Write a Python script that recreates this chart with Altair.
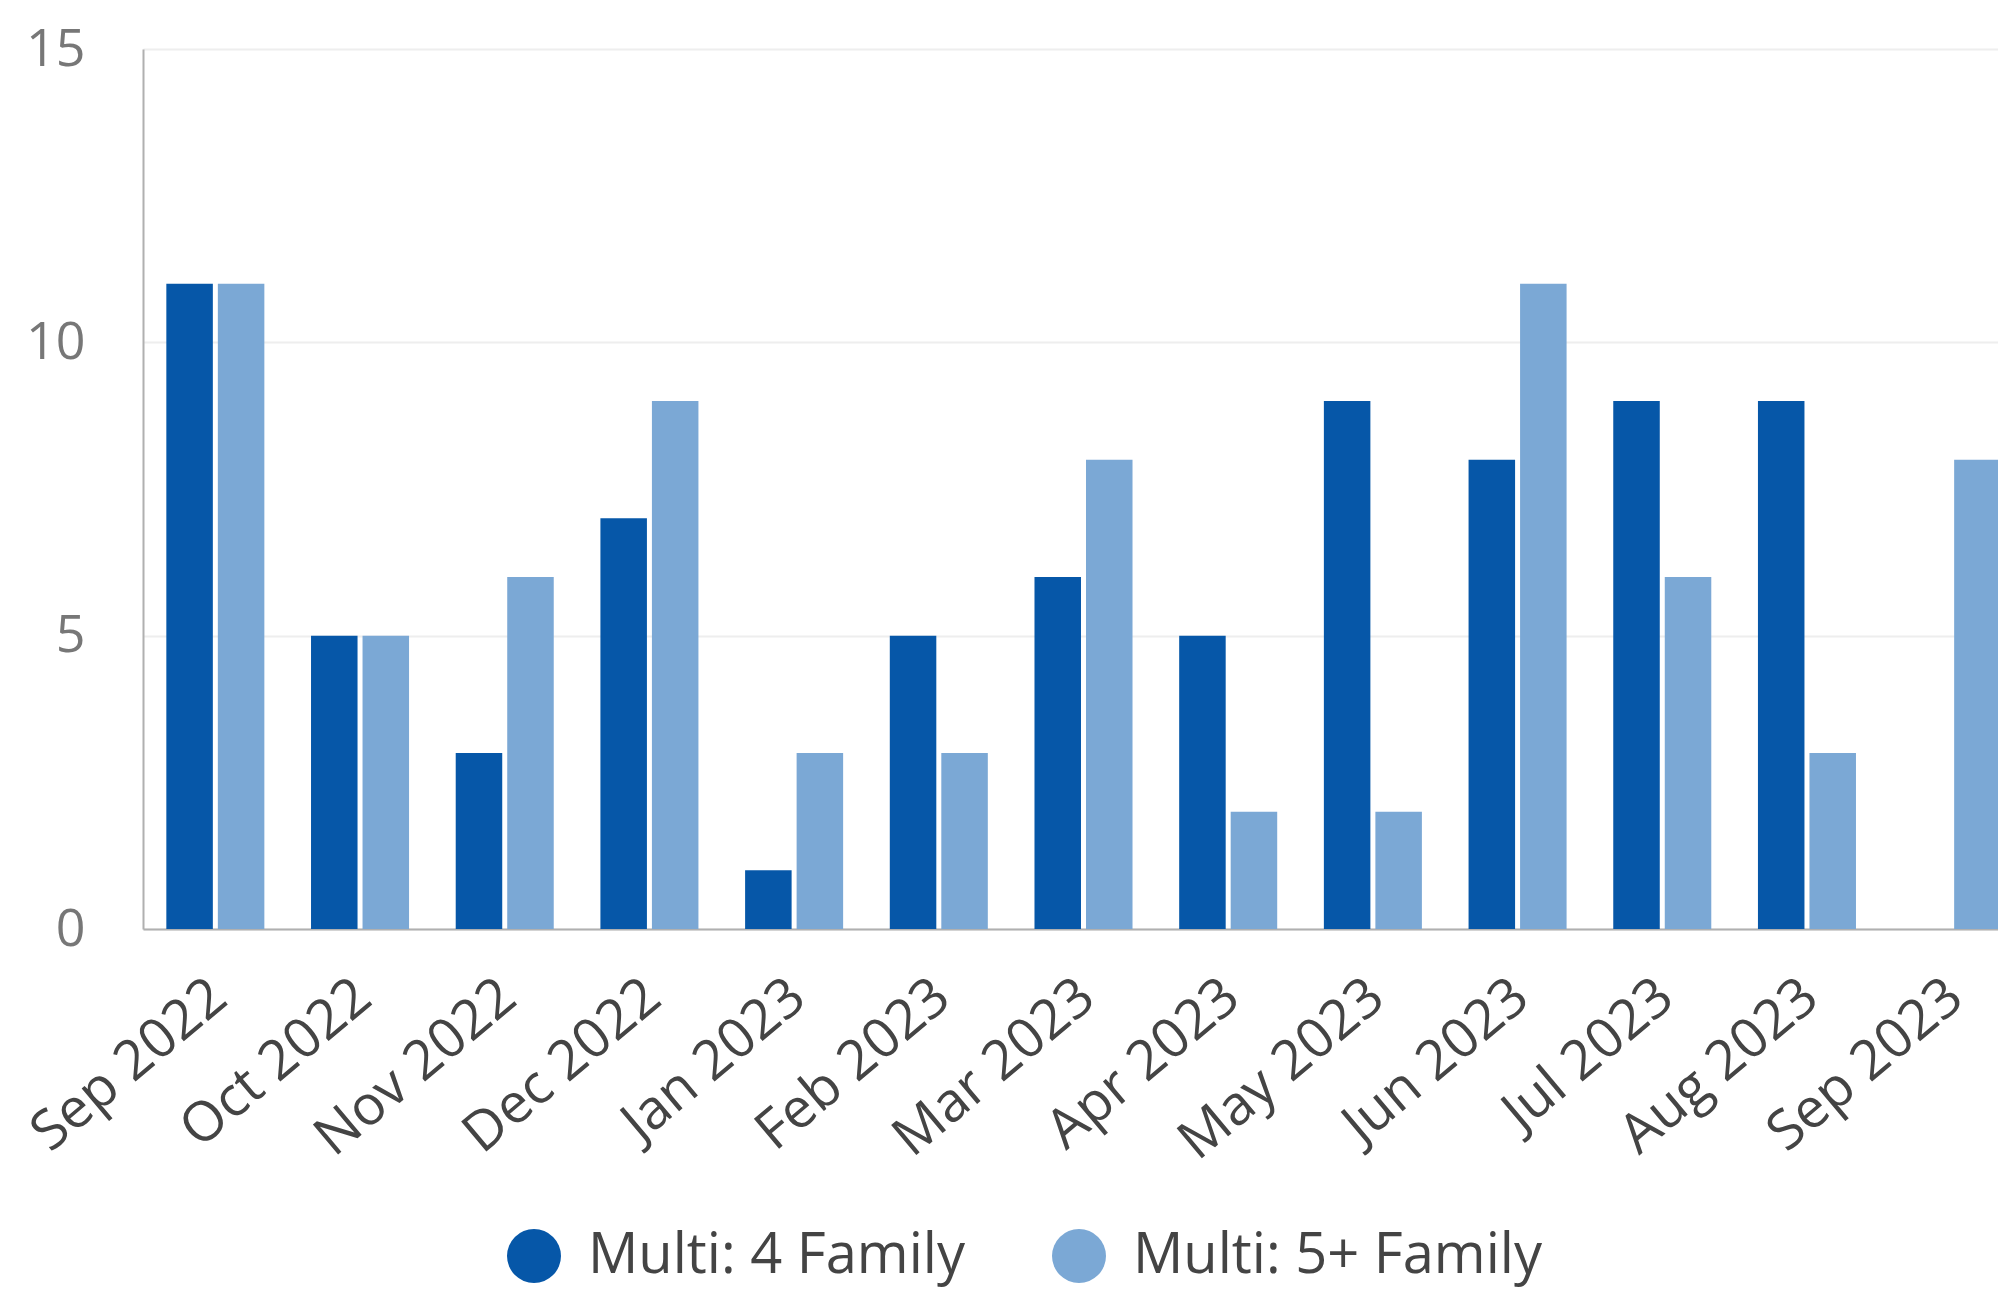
import altair as alt
import pandas as pd

months = ["Sep 2022", "Oct 2022", "Nov 2022", "Dec 2022", "Jan 2023", "Feb 2023",
          "Mar 2023", "Apr 2023", "May 2023", "Jun 2023", "Jul 2023", "Aug 2023", "Sep 2023"]
four_family = [11, 5, 3, 7, 1, 5, 6, 5, 9, 8, 9, 9, 0]
five_plus_family = [11, 5, 6, 9, 3, 3, 8, 2, 2, 11, 6, 3, 8]
series = ["Multi: 4 Family", "Multi: 5+ Family"]
colors = ["#0657a8", "#7ba8d5"]
y_ticks = [0, 5, 10, 15]

rows = []
for m, a, b in zip(months, four_family, five_plus_family):
    rows.append({"month": m, "series": series[0], "value": a})
    rows.append({"month": m, "series": series[1], "value": b})
df = pd.DataFrame(rows)

chart = alt.Chart(df).mark_bar().encode(
    x=alt.X("month:N", sort=months,
            scale=alt.Scale(range=[0, 1881], paddingInner=0, paddingOuter=0),
            axis=alt.Axis(title=None, labelAngle=320, labelFontSize=55, labelColor="#444444",
                          labelFont="Open Sans", ticks=False, domainColor="#b0b0b0", domainWidth=2,
                          labelPadding=40, labelOffset=-13, grid=False, labelOverlap=False,
                          labelLimit=0)),
    xOffset=alt.XOffset("series:N", sort=series,
                        scale=alt.Scale(paddingInner=0.097, paddingOuter=0.453)),
    y=alt.Y("value:Q", scale=alt.Scale(domain=[0, 15]),
            axis=alt.Axis(values=y_ticks, title=None, labelFontSize=52, labelColor="#777777",
                          labelFont="Open Sans", ticks=False, domainColor="#b0b0b0", domainWidth=2,
                          labelPadding=58, gridColor="#eeeeee", gridWidth=2)),
    color=alt.Color("series:N", sort=series,
                    scale=alt.Scale(domain=series, range=colors),
                    legend=alt.Legend(title=None, orient="none", legendX=363, legendY=1179,
                                      direction="horizontal", symbolType="circle",
                                      symbolSize=2916, symbolStrokeWidth=0,
                                      labelFontSize=56, labelFont="Open Sans",
                                      labelColor="#444444", labelOffset=26, labelLimit=0,
                                      columnPadding=86, padding=0)),
).properties(
    width=1855, height=880,
    padding={"left": 135, "top": 41, "right": 0, "bottom": 363},
    autosize=alt.AutoSizeParams(type="none"),
).configure_view(stroke=None)

chart.save("out.html", embed_options={"renderer": "svg", "actions": False})
